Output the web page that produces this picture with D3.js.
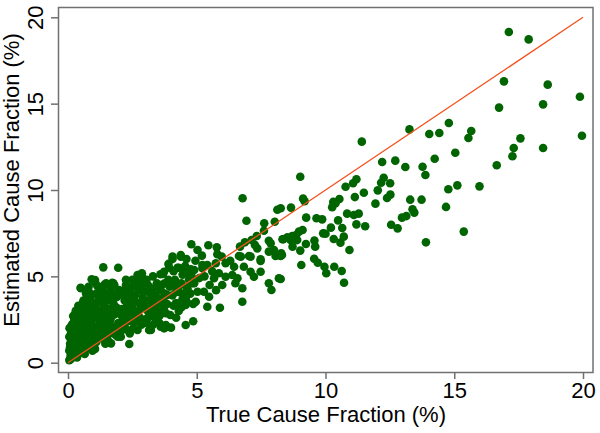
<!DOCTYPE html>
<html>
<head>
<meta charset="utf-8">
<script src="https://cdn.jsdelivr.net/npm/d3@7"></script>
<style>
body { margin: 0; background: #fff; }
text { font-family: "Liberation Sans", Arial, sans-serif; }
</style>
</head>
<body>
<script>
var xTicks = [0, 5, 10, 15, 20]
var yTicks = [0, 5, 10, 15, 20]
var xTitle = "True Cause Fraction (%)"
var yTitle = "Estimated Cause Fraction (%)"
var refLine = [[0, 0], [20, 20]]

// [true CF, estimated CF]
var cluster0to1 = [[0.05,0.15],[0.1,0.4],[0.05,0.7],[0.15,0.9],[0.08,1.1],[0.2,1.3],[0.05,1.5],[0.12,1.7],[0.2,1.9],[0.06,2.0],[0.15,2.2],[0.25,2.5],[0.2,2.7],[0.22,0.6],[0.28,1.0],[0.3,1.6],[0.3,2.1],[0.18,0.3],[0.25,0.8],[0.12,1.3],[0.28,2.8],[0.08,0.9],[0.18,1.5],[0.3,1.2],
  [0.35,0.3],[0.4,0.5],[0.45,0.8],[0.38,1.1],[0.5,1.4],[0.42,1.7],[0.55,2.0],[0.35,2.3],[0.5,2.6],[0.45,3.0],[0.6,3.2],[0.55,0.6],[0.6,1.1],[0.4,1.9],[0.58,2.4],[0.48,2.9],[0.33,1.4],[0.52,1.7],[0.49,4.34],[0.6,0.9],[0.5,4.31],
  [0.65,0.5],[0.7,0.8],[0.75,1.2],[0.8,1.5],[0.7,1.9],[0.85,2.2],[0.75,2.6],[0.9,2.9],[0.7,3.3],[0.85,3.6],[0.95,0.7],[0.9,1.1],[0.95,1.8],[0.8,2.4],[0.98,3.1],[0.9,3.9],[0.65,2.8],[0.81,4.11],[0.8,4.4],[0.7,1.4],[0.95,2.5],[0.92,4.83],[0.76,3.5],
  [0.1,0.2],[0.2,0.5],[0.3,0.4],[0.15,1.1],[0.25,1.7],[0.35,1.8],[0.4,2.6],[0.2,2.3],[0.5,2.2],[0.6,1.5],[0.65,2.1],[0.55,2.9],[0.7,2.4],[0.85,1.0],[0.8,1.9],[0.9,2.6],[0.75,3.0],[0.85,3.3],[0.6,3.6],[0.95,3.5],[0.7,4.0],[0.55,3.4],[0.4,3.3],[0.3,3.0],[0.9,1.4],[0.98,2.1]]

var cluster1to3 = [[1.05,0.8],[1.1,1.2],[1.2,1.6],[1.15,2.0],[1.3,2.3],[1.1,2.7],[1.25,3.0],[1.4,3.4],[1.2,3.7],[1.35,4.0],[1.45,1.1],[1.4,1.9],[1.3,1.4],[1.45,2.6],[1.05,3.3],[1.25,4.3],[1.37,5.52],[1.48,4.6],[1.06,4.63],[1.14,4.44],[1.33,4.31],[1.0,1.9],[1.47,1.5],[1.2,2.5],[1.05,4.79],
  [1.55,1.3],[1.67,1.12],[1.6,1.7],[1.7,2.1],[1.65,2.5],[1.8,2.8],[1.6,3.1],[1.75,3.5],[1.9,3.8],[1.72,4.63],[1.76,4.6],[1.95,5.5],[1.85,1.6],[1.93,1.5],[1.95,2.3],[1.88,3.2],[1.55,4.0],[1.98,4.2],[1.7,3.9],
  [1.1,1.5],[1.2,2.2],[1.3,2.7],[1.4,2.2],[1.5,3.0],[1.35,3.4],[1.15,3.5],[1.6,2.3],[1.7,2.7],[1.8,3.3],[1.9,2.0],[1.6,3.6],[1.45,3.8],[1.85,4.0],[1.25,1.9],[1.5,2.0],[1.75,1.8],[1.1,4.0],[1.65,4.3],[1.4,4.5],[1.8,4.5],
  [2.05,1.5],[2.1,1.9],[2.2,2.2],[2.31,1.89],[2.38,1.08],[2.15,2.6],[2.3,2.9],[2.4,3.3],[2.2,3.6],[2.35,4.0],[2.18,4.21],[2.45,2.4],[2.1,3.1],[2.48,3.7],[2.25,4.5],[2.4,1.7],[2.05,2.8],
  [2.55,2.0],[2.7,1.89],[2.7,2.47],[2.6,2.8],[2.8,3.1],[2.65,3.5],[2.9,3.8],[2.75,4.2],[2.69,4.69],[2.82,4.4],[2.7,5.08],[2.87,5.18],[2.95,2.5],[2.85,2.2],[2.6,3.9],[2.98,3.3],[2.55,4.5],[2.9,4.9],
  [2.1,2.4],[2.2,3.0],[2.3,3.4],[2.45,2.9],[2.5,3.2],[2.6,2.4],[2.75,2.7],[2.85,3.5],[2.95,4.1],[2.4,4.2],[2.15,3.9],[2.65,4.4],[2.05,2.1],[2.3,2.5],[2.8,4.6],[2.5,4.8],[2.25,4.8]]

var cluster3to6 = [[3.15,1.89],[3.05,2.3],[3.22,1.89],[3.2,2.7],[3.1,3.0],[3.3,3.3],[3.15,3.6],[3.4,3.9],[3.14,4.4],[3.27,4.11],[3.41,4.4],[3.41,2.47],[3.45,2.9],[3.35,3.5],[3.05,4.8],[3.3,5.0],[3.48,3.1],
  [3.1,2.6],[3.25,3.0],[3.35,3.8],[3.5,3.4],[3.6,3.0],[3.2,4.0],[3.45,4.6],[3.65,4.5],[3.85,3.4],[3.9,4.8],[3.3,2.2],[3.55,2.3],[3.1,4.5],[3.75,4.0],
  [3.6,2.08],[3.73,1.99],[3.8,2.05],[3.55,2.7],[3.8,2.86],[3.65,3.2],[3.73,3.53],[3.86,3.92],[3.73,5.27],[3.93,5.5],[3.59,5.12],[3.69,5.14],[3.9,5.72],[3.6,4.2],[3.75,4.6],[3.95,4.4],[3.97,2.76],[3.73,3.05],[3.8,2.18],[3.67,2.08],[3.55,3.7],
  [4.06,6.0],[4.06,6.14],[4.38,6.14],[4.38,6.24],[4.25,5.5],[4.12,4.5],[4.25,3.44],[4.19,3.44],[4.06,3.9],[4.3,4.1],[4.15,4.8],[4.4,4.6],[4.45,5.1],[4.0,2.03],[4.3,3.0],[4.1,5.3],[4.45,3.7],[4.2,2.6],
  [4.1,3.3],[4.2,4.1],[4.35,4.5],[4.5,4.0],[4.6,4.4],[4.75,4.0],[4.9,4.6],[4.3,5.5],[4.55,5.6],[4.8,5.0],[4.0,4.6],[4.4,3.2],
  [4.51,5.47],[4.64,5.18],[4.9,5.37],[4.79,6.86],[5.03,6.53],[4.64,4.31],[4.57,3.73],[4.57,3.34],[4.96,3.53],[5.03,4.11],[4.57,2.18],[4.86,2.4],[4.61,3.53],[4.86,3.4],[4.77,5.41],[4.7,4.8],[4.85,4.6],[4.6,6.0],[4.95,5.9],
  [5.22,5.47],[5.41,5.66],[5.74,5.76],[5.45,6.8],[5.78,6.68],[5.8,6.28],[5.97,6.14],[5.22,5.66],[5.86,5.18],[5.67,4.89],[5.28,4.11],[5.48,3.82],[5.41,3.24],[5.9,3.18],[5.99,4.5],[5.1,4.9],[5.3,5.0],[5.6,5.3],[5.2,6.2],[5.5,4.5],[5.75,4.2]]

var cluster6to9 = [[6.12,5.76],[6.45,5.56],[6.83,5.56],[6.71,6.14],[6.12,4.98],[6.38,5.08],[6.58,4.89],[6.77,4.31],[6.77,3.53],[6.64,6.18],[6.78,9.52],[6.93,8.22],[6.87,6.97],[6.68,6.72],[6.3,5.9],[6.5,4.6],
  [7.03,6.18],[7.09,6.14],[7.48,5.89],[7.48,5.99],[7.09,5.27],[7.22,4.98],[7.48,5.27],[7.8,4.6],[7.9,4.21],[7.62,8.07],[7.61,7.64],[7.33,7.34],[7.13,7.1],[7.26,6.82],[7.35,6.62],[7.8,7.06],[7.87,6.91],[7.8,6.43],
  [8.13,8.86],[8.03,8.16],[8.33,7.15],[8.0,6.53],[8.28,6.33],[8.06,6.18],[8.26,6.18],[8.19,4.89],[8.26,4.85],[8.26,8.94],[8.36,7.15],[8.52,7.26],[8.71,7.34],[8.86,7.39],[8.97,7.59],[8.64,7.1],[8.9,7.1],[8.72,6.72],[8.31,6.24],[8.66,8.98],[9.02,10.77]]

var upperTail = [[9.02,6.49],[9.11,7.68],[9.24,6.87],[9.57,7.07],[9.6,6.72],[9.56,6.02],[9.7,5.79],[9.96,5.56],[10.03,5.18],[10.34,5.56],[10.63,5.31],[9.06,5.66],[10.72,4.63],
  [9.13,9.5],[9.19,9.35],[9.25,8.4],[9.65,8.36],[9.87,8.3],[10.49,8.24],[9.91,7.49],[10.0,7.47],[10.21,7.82],[10.65,7.8],[10.71,7.3],[10.32,7.16],[10.58,6.95],[10.93,6.53],
  [10.3,9.31],[10.39,9.23],[10.26,9.0],[10.54,9.48],[10.78,10.19],[11.07,10.39],[11.2,10.62],[11.14,9.59],[10.84,8.63],[11.29,8.63],[11.1,8.55],[11.2,8.01],[11.54,7.9],[11.41,12.8],[11.49,9.84],
  [12.2,11.62],[12.71,11.7],[13.1,11.33],[12.26,10.71],[12.51,10.39],[12.16,10.42],[12.03,9.98],[12.52,9.73],[12.39,9.54],[11.94,9.21],[13.29,9.44],[13.38,8.88],[13.45,8.69],[13.14,8.49],[12.97,8.4],[12.55,7.99],[12.8,7.78],[13.26,13.51],
  [13.77,11.35],[13.88,10.87],[13.73,9.44],[13.9,6.97],[14.03,13.24],[14.42,13.3],[14.79,13.88],[14.24,11.81],[15.04,12.16],[15.12,10.27],[14.77,10.04],[14.68,9.02],[15.37,7.59],[15.66,13.42],[15.55,13.01],[15.98,10.21],
  [16.65,11.43],[16.74,14.77],[16.93,16.29],[17.12,19.15],[17.89,18.72],[17.57,12.99],[17.31,12.43],[17.26,11.95],[18.45,12.43],[18.45,14.96],[18.63,16.1],[19.88,15.4],[19.96,13.14]]

var wszystkie = cluster0to1.concat(cluster1to3, cluster3to6, cluster6to9, upperTail)

var obrazek = d3.select("body").append("svg")
  .attr("width", 600)
  .attr("height", 433)

var x = d3.scaleLinear().domain([0, 20]).range([68, 583])
var y = d3.scaleLinear().domain([0, 20]).range([362.7, 17.3])

// ramka
obrazek.append("rect").attr("x", 58.5).attr("y", 7.5).attr("width", 534.5).attr("height", 365)
  .style("fill", "none").style("stroke", "#707070").style("stroke-width", 1.5)

var osX = obrazek.append("g").attr("transform", "translate(0,373)")
  .call(d3.axisBottom(x).tickValues(xTicks).tickSize(6).tickPadding(3))
osX.select(".domain").remove()
osX.selectAll("line").style("stroke", "#707070").style("stroke-width", 1.5)
osX.selectAll("text").style("font-size", "22px").style("fill", "#000")

var osY = obrazek.append("g").attr("transform", "translate(58,0)")
  .call(d3.axisLeft(y).tickValues(yTicks).tickSize(7))
osY.select(".domain").remove()
osY.selectAll("line").style("stroke", "#707070").style("stroke-width", 1.5)
osY.selectAll("text")
  .attr("x", 0).attr("dy", 0)
  .attr("transform", "translate(-15,0) rotate(-90)")
  .style("text-anchor", "middle")
  .style("font-size", "22px").style("fill", "#000")

obrazek.append("g").selectAll("circle")
  .data(wszystkie)
  .enter()
  .append("circle")
  .attr("cx", function(d) { return x(d[0]) })
  .attr("cy", function(d) { return y(d[1]) })
  .attr("r", 4.3)
  .style("fill", "#006400")

obrazek.append("path")
  .datum(refLine)
  .attr("d", d3.line().x(function(d) { return x(d[0]) }).y(function(d) { return y(d[1]) }))
  .style("fill", "none")
  .style("stroke", "#f4511e")
  .style("stroke-width", 1.3)

obrazek.append("text").attr("x", 326).attr("y", 422)
  .style("text-anchor", "middle").style("font-size", "22px")
  .text(xTitle)

obrazek.append("text")
  .attr("transform", "translate(19,180) rotate(-90)")
  .style("text-anchor", "middle").style("font-size", "22px")
  .text(yTitle)
</script>
</body>
</html>
